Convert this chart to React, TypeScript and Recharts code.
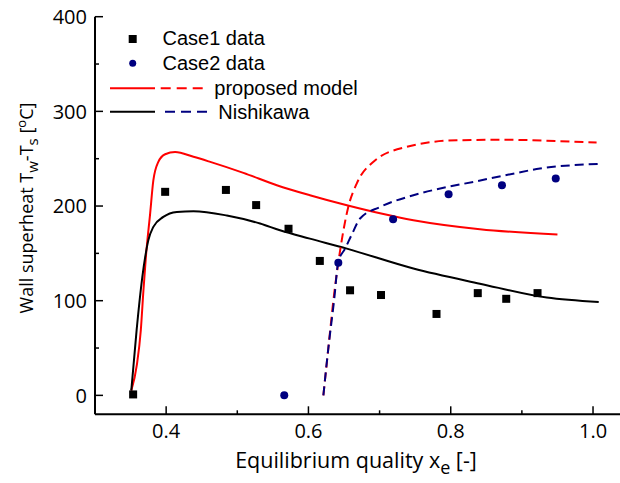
import React from 'react';
import { ComposedChart, Line, Scatter, XAxis, YAxis, Customized } from 'recharts';

// ---- data ----
const case1X = [0.3536, 0.3986, 0.484, 0.5265, 0.572, 0.616, 0.6585, 0.702, 0.78, 0.838, 0.878, 0.922];
const case1Y = [1, 215, 217, 201, 176, 142, 111, 106, 86, 108, 102, 108];

const case2X = [0.566, 0.642, 0.719, 0.797, 0.872, 0.9476];
const case2Y = [0, 140, 186, 212.5, 222, 229];

const propSolidX = [0.351, 0.359, 0.3644, 0.368, 0.3715, 0.3775, 0.382, 0.389, 0.3986, 0.4126, 0.4384, 0.462, 0.5086, 0.5555, 0.602, 0.654, 0.7475, 0.841, 0.95];
const propSolidY = [5, 33, 69, 110, 146, 192, 227, 246.6, 254.7, 257, 252, 246.6, 235, 222, 211.4, 200.8, 185, 175.5, 170];

const nishSolidX = [0.351, 0.3585, 0.3665, 0.3705, 0.375, 0.382, 0.396, 0.415, 0.4384, 0.4853, 0.532, 0.56, 0.602, 0.654, 0.7475, 0.841, 0.935, 1.008];
const nishSolidY = [5, 69, 125, 146, 164, 178, 188.5, 193.8, 194.5, 190, 181.5, 174.4, 165.6, 155, 134, 118, 103.3, 98.6];

const propDashX = [0.621, 0.628, 0.635, 0.6445, 0.656, 0.668, 0.691, 0.738, 0.8085, 0.8787, 0.95, 1.005];
const propDashY = [0, 50, 100, 153, 199, 224, 246.6, 262.5, 269.5, 270, 268.5, 267];

const nishDashX = [0.621, 0.628, 0.636, 0.642, 0.6515, 0.661, 0.6726, 0.7007, 0.7475, 0.7944, 0.8318, 0.88, 0.9255, 1.0088];
const nishDashY = [0, 50, 100, 141, 155, 170, 186.8, 199, 211.4, 220, 225.5, 233, 239.6, 244.5];

const xTicks = [0.4, 0.5, 0.6, 0.7, 0.8, 0.9, 1.0];
const yTicks = [0, 50, 100, 150, 200, 250, 300, 350, 400];

const legendLabels = ['Case1 data', 'Case2 data', 'proposed model', 'Nishikawa'];

const zip = (xs: number[], ys: number[]) => xs.map((x, i) => ({ x, y: ys[i] }));

const case1 = zip(case1X, case1Y);
const case2 = zip(case2X, case2Y);
const propSolid = zip(propSolidX, propSolidY);
const nishSolid = zip(nishSolidX, nishSolidY);
const propDash = zip(propDashX, propDashY);
const nishDash = zip(nishDashX, nishDashY);

const TICK_FONT = '"Open Sans", sans-serif';
const LEG_FONT = '"Liberation Sans", Arial, sans-serif';
const NAVY = '#000080';
const RED = '#ff0000';

const XTick = (props: any) => {
  const { x, y, payload } = props;
  const v = payload.value;
  const major = Math.round(v * 10) % 2 === 0;
  return (
    <g>
      <line x1={x} x2={x} y1={y} y2={y - (major ? 8 : 4)} stroke="#000" strokeWidth={1.5} />
      {major && (
        <text x={x} y={y + 24} textAnchor="middle" fontFamily={TICK_FONT} fontSize={20} fill="#000">
          {v.toFixed(1)}
        </text>
      )}
    </g>
  );
};

const YTick = (props: any) => {
  const { x, y, payload } = props;
  const v = payload.value;
  const major = v % 100 === 0;
  return (
    <g>
      <line x1={x} x2={x + (major ? 8 : 4)} y1={y} y2={y} stroke="#000" strokeWidth={1.5} />
      {major && (
        <text x={x - 8} y={y} dy="0.36em" textAnchor="end" fontFamily={TICK_FONT} fontSize={20} fill="#000">
          {v}
        </text>
      )}
    </g>
  );
};

const Square = (props: any) => {
  const { cx, cy } = props;
  return <rect x={cx - 4} y={cy - 4} width={8} height={8} fill="#000" />;
};
const Dot = (props: any) => {
  const { cx, cy } = props;
  return <circle cx={cx} cy={cy} r={4} fill={NAVY} />;
};

const Overlay = () => {
  return (
    <g>
      {/* legend */}
      <rect x={128.7} y={35} width={8} height={8} fill="#000" />
      <text x={162.5} y={45} fontFamily={LEG_FONT} fontSize={20} fill="#000">{legendLabels[0]}</text>
      <circle cx={132.7} cy={63.3} r={3.5} fill={NAVY} />
      <text x={162.5} y={70} fontFamily={LEG_FONT} fontSize={20} fill="#000">{legendLabels[1]}</text>
      <line x1={110} x2={155} y1={88.3} y2={88.3} stroke={RED} strokeWidth={2} />
      <line x1={160.7} x2={208} y1={88.3} y2={88.3} stroke={RED} strokeWidth={2} strokeDasharray="10 6" />
      <text x={214.3} y={94.5} fontFamily={LEG_FONT} fontSize={20} fill="#000">{legendLabels[2]}</text>
      <line x1={110} x2={155} y1={111.7} y2={111.7} stroke="#000" strokeWidth={2} />
      <line x1={165} x2={212} y1={111.7} y2={111.7} stroke={NAVY} strokeWidth={2} strokeDasharray="10 6" />
      <text x={218.3} y={119} fontFamily={LEG_FONT} fontSize={20} fill="#000">{legendLabels[3]}</text>
      {/* axis titles */}
      <text x={356} y={468} textAnchor="middle" fontFamily={TICK_FONT} fontSize={21.5} fill="#000">
        Equilibrium quality x<tspan dy={6} fontSize={18}>e</tspan><tspan dy={-6}> [-]</tspan>
      </text>
      <text x={33} y={208} textAnchor="middle" transform="rotate(-90 33 208)" fontFamily={TICK_FONT} fontSize={18} fill="#000">
        Wall superheat T<tspan dy={5} fontSize={15}>w</tspan><tspan dy={-5}>-T</tspan><tspan dy={5} fontSize={15}>s</tspan><tspan dy={-5}> [</tspan><tspan dy={-7} fontSize={13}>o</tspan><tspan dy={7}>C]</tspan>
      </text>
    </g>
  );
};

export default function App() {
  return (
    <div style={{ position: 'absolute', left: 0, top: 0, width: 620, height: 483, overflow: 'hidden', background: '#fff' }}>
      <ComposedChart width={640} height={483} margin={{ top: 16.7, right: 11.4, bottom: 28.7, left: 0 }}>
        <XAxis
          type="number"
          dataKey="x"
          domain={[0.3, 1.05]}
          ticks={xTicks}
          tick={<XTick />}
          tickSize={0}
          tickMargin={0}
          tickLine={false}
          axisLine={{ stroke: '#000', strokeWidth: 2 }}
          height={40}
          allowDataOverflow
        />
        <YAxis
          type="number"
          dataKey="y"
          domain={[-20, 400]}
          ticks={yTicks}
          tick={<YTick />}
          tickSize={0}
          tickMargin={0}
          tickLine={false}
          axisLine={{ stroke: '#000', strokeWidth: 2 }}
          width={95}
          allowDataOverflow
        />
        <Line data={propSolid} dataKey="y" type="monotone" stroke={RED} strokeWidth={2} dot={false} isAnimationActive={false} />
        <Line data={nishSolid} dataKey="y" type="monotone" stroke="#000" strokeWidth={2} dot={false} isAnimationActive={false} />
        <Line data={propDash} dataKey="y" type="monotone" stroke={RED} strokeWidth={2} strokeDasharray="9 5" dot={false} isAnimationActive={false} />
        <Line data={nishDash} dataKey="y" type="monotone" stroke={NAVY} strokeWidth={2} strokeDasharray="9 5" dot={false} isAnimationActive={false} />
        <Scatter data={case1} shape={<Square />} isAnimationActive={false} />
        <Scatter data={case2} shape={<Dot />} isAnimationActive={false} />
        <Customized component={<Overlay />} />
      </ComposedChart>
    </div>
  );
}
